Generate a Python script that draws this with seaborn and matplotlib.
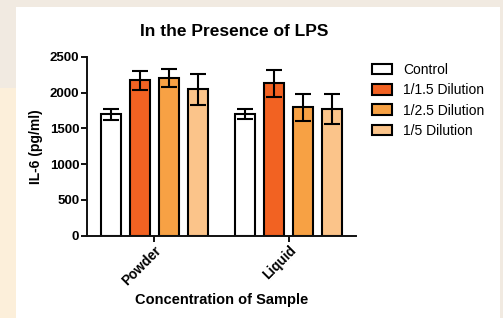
import numpy as np
import pandas as pd
import matplotlib
matplotlib.use("Agg")
import matplotlib.pyplot as plt
from matplotlib.patches import Rectangle
import seaborn as sns

# values
samples = ["Powder", "Liquid"]
treatments = ["Control", "1/1.5 Dilution", "1/2.5 Dilution", "1/5 Dilution"]
powder_mean = [1695, 2170, 2198, 2045]
powder_err = [75, 130, 125, 215]
liquid_mean = [1695, 2128, 1793, 1770]
liquid_err = [70, 190, 190, 205]
colors = ["#ffffff", "#f26222", "#f7a144", "#fbc48a"]

df = pd.DataFrame({
    "Sample": np.repeat(samples, len(treatments)),
    "Treatment": treatments * len(samples),
    "IL6": powder_mean + liquid_mean,
    "err": powder_err + liquid_err,
})

sns.set_style("white")
plt.rcParams["font.family"] = ["Liberation Sans", "DejaVu Sans"]
plt.rcParams["text.color"] = "black"
plt.rcParams["axes.labelcolor"] = "black"
plt.rcParams["xtick.color"] = "black"
plt.rcParams["ytick.color"] = "black"

fig = plt.figure(figsize=(5.03, 3.18), dpi=100, facecolor="#f1eae1")
# page background behind the white card
fig.patches.append(Rectangle((0, 0), 16 / 503, 1 - 88 / 318, transform=fig.transFigure,
                             facecolor="#fcefda", edgecolor="none", zorder=-2))
fig.patches.append(Rectangle((16 / 503, 0), 484 / 503, 1 - 7 / 318, transform=fig.transFigure,
                             facecolor="white", edgecolor="none", zorder=-2))

ax = fig.add_axes([87 / 503, 1 - 235.7 / 318, (356 - 87) / 503, (235.7 - 56.7) / 318])
ax.set_facecolor("none")

sns.barplot(
    data=df, x="Sample", y="IL6", hue="Treatment",
    order=samples, hue_order=treatments, palette=colors,
    errorbar=None, width=0.86, gap=0.3,
    edgecolor="black", linewidth=1.5, saturation=1, ax=ax,
)

# error bars at the bar centres seaborn laid out
for cont, treat in zip(ax.containers, treatments):
    sub = df[df["Treatment"] == treat].set_index("Sample").loc[samples]
    xs = [b.get_x() + b.get_width() / 2 for b in cont]
    ys = [b.get_height() for b in cont]
    ax.errorbar(xs, ys, yerr=sub["err"].values, fmt="none", ecolor="black",
                elinewidth=1.5, capsize=6, capthick=1.5, zorder=3)

ax.set_xlim(-0.5, 1.5)
ax.set_ylim(0, 2500)
ax.set_yticks([0, 500, 1000, 1500, 2000, 2500])
sns.despine(ax=ax)
for s in ["left", "bottom"]:
    ax.spines[s].set_linewidth(1.4)
    ax.spines[s].set_color("#111111")

ax.tick_params(axis="both", direction="out", length=4, width=1.4, color="#111111",
               left=True, bottom=True, pad=1.5)
for lab in ax.get_yticklabels():
    lab.set_fontsize(9.5)
    lab.set_fontweight("bold")
ax.set_xticks(range(len(samples)))
ax.set_xticklabels(samples, rotation=45, ha="right", rotation_mode="anchor",
                   fontsize=9.8, fontweight="bold")

ax.set_xlabel("Concentration of Sample", fontsize=10.5, fontweight="bold")
ax.set_ylabel("IL-6 (pg/ml)", fontsize=10, fontweight="bold", labelpad=5)
ax.xaxis.set_label_coords((222 - 87) / (356 - 87), (235.7 - 293) / (235.7 - 56.7))

fig.text(234 / 503, 1 - 31 / 318, "In the Presence of LPS", fontsize=12.5,
         fontweight="bold", ha="center", va="center")

handles, labels = ax.get_legend_handles_labels()
ax.legend(handles, labels, loc="upper left", bbox_to_anchor=(372 / 503, 1 - 63 / 318),
          bbox_transform=fig.transFigure, frameon=False, fontsize=10,
          handlelength=1.45, handleheight=0.8, handletextpad=0.8,
          labelspacing=0.45, borderpad=0, borderaxespad=0)

fig.savefig("out.png", dpi=100, facecolor=fig.get_facecolor())
